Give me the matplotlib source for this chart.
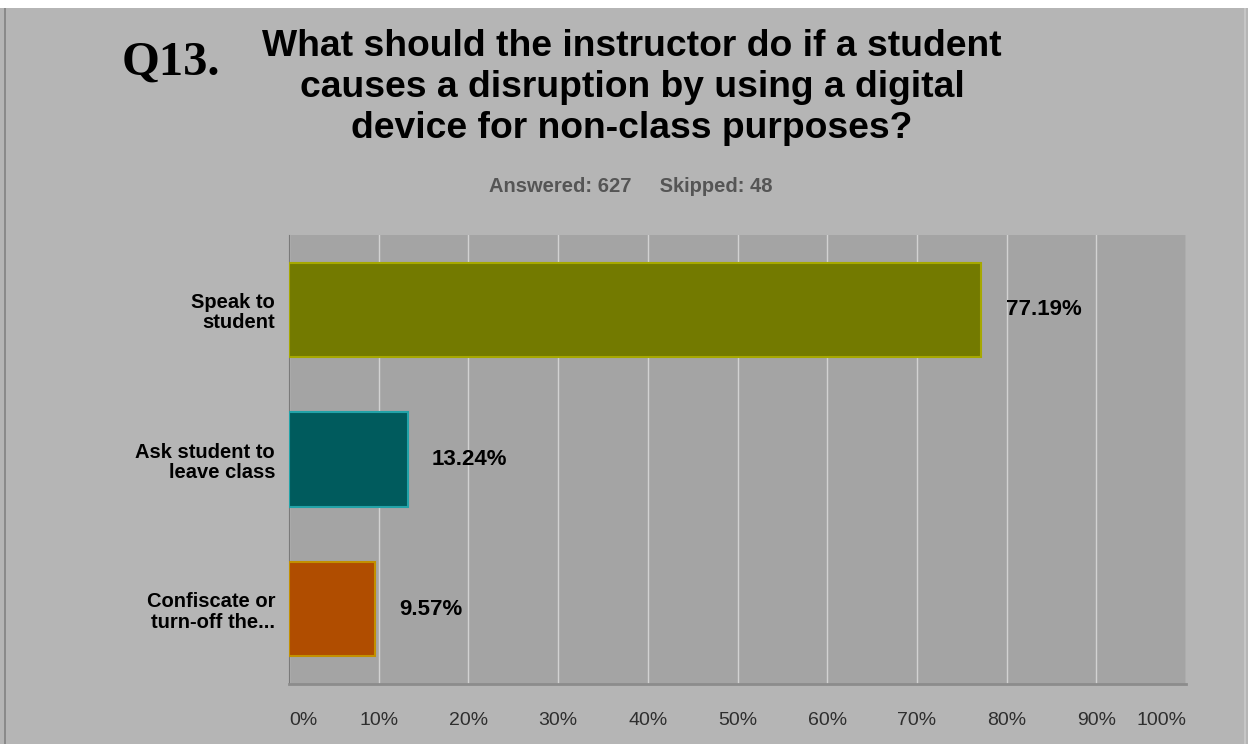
import matplotlib
matplotlib.use("Agg")
import matplotlib.pyplot as plt
from matplotlib.patches import Rectangle

# ── data ──────────────────────────────────────────────────────────────────────
categories = ["Speak to\nstudent", "Ask student to\nleave class", "Confiscate or\nturn-off the..."]
values = [77.19, 13.24, 9.57]
value_labels = ["77.19%", "13.24%", "9.57%"]
ticks = [0, 10, 20, 30, 40, 50, 60, 70, 80, 90, 100]
tick_labels = [f"{t}%" for t in ticks]
title_lines = ["What should the instructor do if a student",
               "causes a disruption by using a digital",
               "device for non-class purposes?"]

face_colors = ["#737a00", "#005b5d", "#b04d00"]
edge_colors = ["#a6a800", "#22a3a8", "#c29000"]

W, H = 1248, 744
fig = plt.figure(figsize=(W / 100, H / 100), dpi=100)
fig.patch.set_facecolor("#b5b5b5")

# white strip at the very top, thin frame lines at the sides
fig.add_artist(Rectangle((0, 1 - 8 / H), 1, 8 / H, transform=fig.transFigure,
                         facecolor="white", edgecolor="none"))
fig.add_artist(Rectangle((4 / W, 0), 2 / W, 1 - 8 / H, transform=fig.transFigure,
                         facecolor="#8a8a8a", edgecolor="none"))
fig.add_artist(Rectangle((1 - 4 / W, 0), 2 / W, 1 - 8 / H, transform=fig.transFigure,
                         facecolor="#c6c6c6", edgecolor="none"))

x0, x1 = 289, 1186
y_top, y_bot = 235, 684
ax = fig.add_axes([x0 / W, 1 - y_bot / H, (x1 - x0) / W, (y_bot - y_top) / H])
ax.set_facecolor("#a4a4a4")

ypos = list(range(len(categories)))
ax.barh(ypos, values, height=0.63, color=face_colors, edgecolor=edge_colors,
        linewidth=1.5, zorder=3)
for y, v, lab in zip(ypos, values, value_labels):
    ax.text(v + 2.7, y, lab, ha="left", va="center", fontsize=16,
            fontweight="bold", color="black", family="Liberation Sans", zorder=4)

ax.set_xlim(0, 100)
ax.set_ylim(len(categories) - 0.5, -0.5)
ax.set_xticks(ticks)
ax.set_xticklabels(tick_labels, fontsize=14, color="#2e2e2e", family="Liberation Sans")
xt = ax.get_xticklabels()
xt[0].set_ha("left")
xt[-1].set_ha("right")
ax.set_yticks(ypos)
ax.set_yticklabels(categories, fontsize=14.5, fontweight="bold", color="black",
                   family="Liberation Sans", linespacing=1.1)
ax.tick_params(axis="x", length=0, pad=20)
ax.tick_params(axis="y", length=0, pad=10)
ax.grid(axis="x", color="#d2d2d2", linewidth=1.0, zorder=1)
for s in ["top", "right"]:
    ax.spines[s].set_visible(False)
ax.spines["left"].set_color("#7a7a7a")
ax.spines["bottom"].set_color("#8c8c8c")
ax.spines["bottom"].set_linewidth(2)

# ── titles ────────────────────────────────────────────────────────────────────
fig.text(171 / W, 1 - 75 / H, "Q13.", ha="center", va="baseline", fontsize=35,
         fontweight="bold", family="Liberation Serif", color="black")
for line, base in zip(title_lines, [56, 97, 138]):
    fig.text(632 / W, 1 - base / H, line, ha="center", va="baseline",
             fontsize=26.8, fontweight="bold", family="Liberation Sans",
             color="black")
fig.text(631 / W, 1 - 186 / H, "Answered: 627     Skipped: 48", ha="center",
         va="center", fontsize=14.5, fontweight="bold", family="Liberation Sans",
         color="#555555")

fig.savefig("out.png", dpi=100, facecolor=fig.get_facecolor())
